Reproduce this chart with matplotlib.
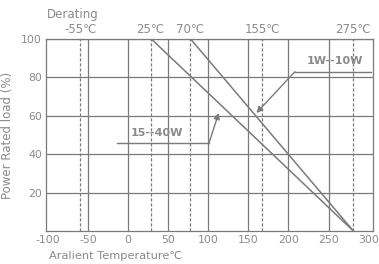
import matplotlib
matplotlib.use("Agg")
import matplotlib.pyplot as plt

# values
x_ticks = [-100, -50, 0, 50, 100, 150, 200, 250, 300]
y_ticks = [20, 40, 60, 80, 100]
mark_labels = ["-55℃", "25℃", "70℃", "155℃", "275℃"]
mark_pos = [-60, 28, 77, 167, 281]

# derating curves (temperature, load %)
curve_15_40w_t = [29, 281]
curve_15_40w_p = [100, 0]
curve_1_10w_t = [78, 281]
curve_1_10w_p = [100, 0]

GRAY = "#8a8a8a"
LINE = "#7a7a7a"

plt.rcParams["axes.unicode_minus"] = False
plt.rcParams["font.family"] = ["DejaVu Sans"]

fig = plt.figure(figsize=(3.79, 2.64), dpi=100)
ax = fig.add_axes([0.1214, 0.125, 0.8628, 0.727])

ax.set_xlim(-102.5, 305.5)
ax.set_ylim(0, 100)

# solid grid
for x in x_ticks[1:-1]:
    ax.axvline(x, color=LINE, lw=0.9, zorder=1)
for y in y_ticks:
    ax.axhline(y, color=LINE, lw=0.9, zorder=1)

# dashed temperature marks
for x, lab in zip(mark_pos, mark_labels):
    ax.axvline(x, color=LINE, lw=0.9, ls=(0, (2.5, 1.5)), zorder=1)
    ax.text(x, 101.5, lab, ha="center", va="bottom", fontsize=8.5, color=GRAY)

# derating curves
ax.plot(curve_15_40w_t, curve_15_40w_p, color=LINE, lw=1.1, zorder=3)
ax.plot(curve_1_10w_t, curve_1_10w_p, color=LINE, lw=1.1, zorder=3)

for s in ax.spines.values():
    s.set_color(LINE)
    s.set_linewidth(0.9)

ax.set_xticks(x_ticks)
ax.set_yticks(y_ticks)
ax.tick_params(length=0, labelsize=7.8, labelcolor=GRAY, pad=3)

ax.set_xlabel("Aralient Temperature℃", fontsize=8.2, color=GRAY)
ax.xaxis.set_label_coords(0.01, -0.13)
ax.xaxis.label.set_horizontalalignment("left")
ax.xaxis.label.set_verticalalignment("center")
ax.set_ylabel("Power Rated load (%)", fontsize=8.5, color=GRAY, labelpad=5)

fig.text(0.125, 0.945, "Derating", fontsize=8.5, color=GRAY, va="center")

# annotations with leader lines
ax.plot([-14, 101], [46, 46], color=LINE, lw=1.0, zorder=3)
ax.annotate("", xy=(113, 61.5), xytext=(101, 46),
            arrowprops=dict(arrowstyle="-|>", color=LINE, lw=1.0,
                            mutation_scale=9, shrinkA=0, shrinkB=0), zorder=4)
ax.text(3, 51, "15--40W", fontsize=8, fontweight="bold", color=GRAY,
        ha="left", va="center")

ax.plot([303, 208], [83, 83], color=LINE, lw=1.0, zorder=3)
ax.annotate("", xy=(160, 61.5), xytext=(208, 83),
            arrowprops=dict(arrowstyle="-|>", color=LINE, lw=1.0,
                            mutation_scale=9, shrinkA=0, shrinkB=0), zorder=4)
ax.text(293, 88.5, "1W--10W", fontsize=8, fontweight="bold", color=GRAY,
        ha="right", va="center")

fig.savefig("out.png", dpi=100)
